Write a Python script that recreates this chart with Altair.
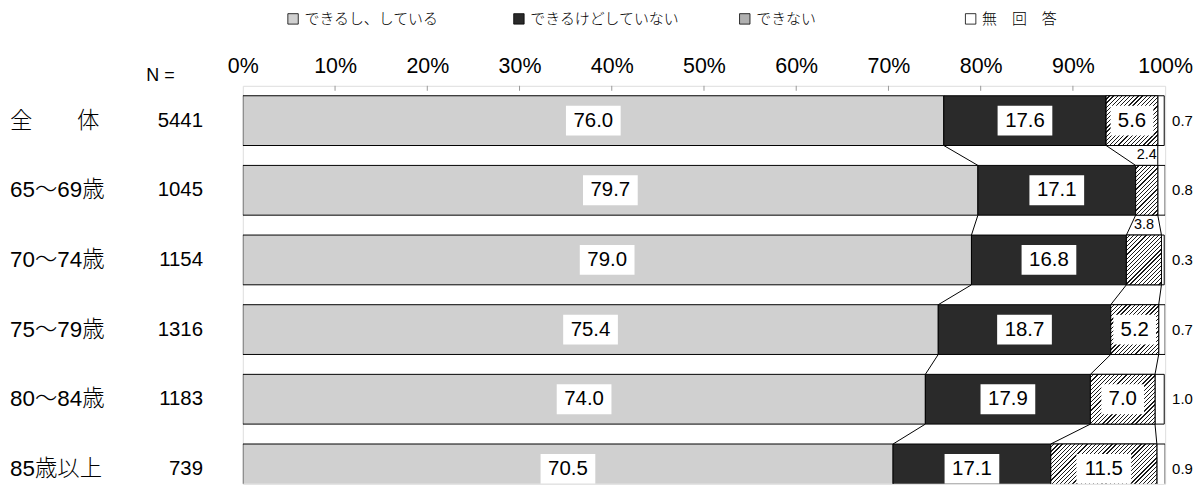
import altair as alt
import pandas as pd

# ---------------- data ----------------
rows = ["全　　体", "65～69歳", "70～74歳", "75～79歳", "80～84歳", "85歳以上"]
n_values = [5441, 1045, 1154, 1316, 1183, 739]
doing = [76.0, 79.7, 79.0, 75.4, 74.0, 70.5]
able_not_doing = [17.6, 17.1, 16.8, 18.7, 17.9, 17.1]
unable = [5.6, 2.4, 3.8, 5.2, 7.0, 11.5]
no_answer = [0.7, 0.8, 0.3, 0.7, 1.0, 0.9]
categories = ["できるし、している", "できるけどしていない", "できない", "無　回　答"]
tick_values = [0, 10, 20, 30, 40, 50, 60, 70, 80, 90, 100]

# ---------------- layout / style ----------------
FONT = "Liberation Sans, Noto Sans CJK JP, sans-serif"
CJK = "Noto Sans CJK JP, sans-serif"
W8 = 300
PLOT_W = 927
PLOT_H = 400
PITCH = 70.0
BAR_TOP = 10 / PITCH
BAR_BOT = 60 / PITCH
PX = PLOT_W / 100.0
colors = ["#d0d0d0", "#2a2a2a", "#b0b0b0", "#ffffff"]

series = [doing, able_not_doing, unable, no_answer]

seg_recs, box_recs, small_recs, right_recs, name_recs = [], [], [], [], []
cums = []
for r, row in enumerate(rows):
    cum = 0.0
    c_row = []
    for k, cat in enumerate(categories):
        v = series[k][r]
        start, end = cum, cum + v
        cum = end
        c_row.append(end)
        seg_recs.append(dict(row=row, r=r, cat=cat, v=v, start=start, end=end,
                             top=r + BAR_TOP, bot=r + BAR_BOT))
        lab = f"{v:.1f}"
        center = (start + end) / 2
        if k < 2 or (k == 2 and v >= 5):
            half = (27.5 if len(lab) == 4 else 21.5) / PX
            box_recs.append(dict(lab=lab, xc=center, x1=center - half, x2=center + half,
                                 yc=r + 0.5, y1=r + 0.5 - 15 / PITCH, y2=r + 0.5 + 15 / PITCH))
        elif k == 2:
            small_recs.append(dict(lab=lab, xc=center, yc=float(r)))
        else:
            right_recs.append(dict(lab=lab, xr=100.0, yc=r + 0.5))
    cums.append(c_row)
    name_recs.append(dict(name=row, n=str(n_values[r]), yc=r + 0.5))

conn_recs = []
for r in range(len(rows) - 1):
    for k in range(3):
        conn_recs.append(dict(x=cums[r][k], x2=cums[r + 1][k],
                              y=r + BAR_BOT, y2=r + 1 + BAR_TOP))

seg_df = pd.DataFrame(seg_recs)
box_df = pd.DataFrame(box_recs)
small_df = pd.DataFrame(small_recs)
right_df = pd.DataFrame(right_recs)
name_df = pd.DataFrame(name_recs)
conn_df = pd.DataFrame(conn_recs)
tick_df = pd.DataFrame({"t": tick_values[1:-1]})

xs = alt.Scale(domain=[0, 100], nice=False, zero=False)
ys = alt.Scale(domain=[0, PLOT_H / PITCH], reverse=True, nice=False, zero=False)
xaxis = alt.Axis(orient="top", values=tick_values, labelExpr="datum.value + '%'",
                 labelFont=FONT, labelFontSize=21.5, labelFontWeight=W8,
                 labelColor="black", labelFlush=False, labelOverlap=False,
                 ticks=False, domain=False, grid=False, labelPadding=8, title=None)


def X(f):
    return alt.X(f, type="quantitative", scale=xs, axis=xaxis)


def Y(f):
    return alt.Y(f, type="quantitative", scale=ys, axis=None)


bars = alt.Chart(seg_df).mark_bar(stroke="black", strokeWidth=1, clip=True).encode(
    x=X("start"), x2="end", y=Y("top"), y2="bot",
    fill=alt.Fill("cat:N", sort=categories,
                  scale=alt.Scale(domain=categories, range=colors),
                  legend=alt.Legend(orient="none", legendX=43, legendY=-75,
                                    direction="horizontal", columns=4, gridAlign="all",
                                    columnPadding=57, symbolType="square", symbolSize=110,
                                    symbolStrokeColor="black", symbolStrokeWidth=0.8,
                                    labelFont=CJK, labelFontSize=15, labelFontWeight=W8,
                                    labelColor="black", labelOffset=4, title=None)),
)


def hatch(w_px, h_px=50.0, p=4.2, f=0.3, s=1.25):
    rr = h_px / w_px
    n = max(1, round(w_px * s * (1 + rr * rr) / p))
    stops = []
    for i in range(n):
        a, b, c = i / n, (i + 1 - f) / n, (i + 1) / n
        stops += [{"offset": a, "color": "#ffffff"}, {"offset": b, "color": "#ffffff"},
                  {"offset": b, "color": "#1a1a1a"}, {"offset": c, "color": "#1a1a1a"}]
    return {"gradient": "linear", "x1": 0, "y1": 0, "x2": s, "y2": s * rr, "stops": stops}


hatch_layers = []
for r in range(len(rows)):
    sub = seg_df[(seg_df["cat"] == categories[2]) & (seg_df["r"] == r)]
    w = float(sub["v"].iloc[0]) * PX
    hatch_layers.append(
        alt.Chart(sub).mark_bar(fill=hatch(w), stroke="black", strokeWidth=1, clip=True).encode(
            x=X("start"), x2="end", y=Y("top"), y2="bot"))

conn = alt.Chart(conn_df).mark_rule(color="black", strokeWidth=1).encode(
    x=X("x"), x2="x2", y=Y("y"), y2="y2")

ticks = alt.Chart(tick_df).mark_rule(color="#999999", strokeWidth=1).encode(
    x=X("t"), y=alt.value(0), y2=alt.value(5))

boxes = alt.Chart(box_df).mark_bar(fill="white", stroke=None, clip=True).encode(
    x=X("x1"), x2="x2", y=Y("y1"), y2="y2")

box_text = alt.Chart(box_df).mark_text(font=FONT, fontSize=20.5, fontWeight=W8, color="black",
                                       baseline="middle", align="center").encode(
    x=X("xc"), y=Y("yc"), text="lab:N")

small_text = alt.Chart(small_df).mark_text(font=FONT, fontSize=14.5, fontWeight=W8,
                                           color="black", baseline="middle",
                                           align="center").encode(
    x=X("xc"), y=Y("yc"), text="lab:N")

right_text = alt.Chart(right_df).mark_text(font=FONT, fontSize=15, fontWeight=W8,
                                           color="black", baseline="middle",
                                           align="left", dx=7).encode(
    x=X("xr"), y=Y("yc"), text="lab:N")

name_text = alt.Chart(name_df).mark_text(font=FONT, fontSize=22.5, fontWeight=W8,
                                         color="black", baseline="middle",
                                         align="left").encode(
    x=alt.value(-234), y=Y("yc"), text="name:N")

n_text = alt.Chart(name_df).mark_text(font=FONT, fontSize=20.5, fontWeight=W8, color="black",
                                      baseline="middle", align="right").encode(
    x=alt.value(-40), y=Y("yc"), text="n:N")

n_head = alt.Chart(pd.DataFrame({"t": ["N ="]})).mark_text(
    font=FONT, fontSize=18, fontWeight=W8, color="black", baseline="middle",
    align="left").encode(x=alt.value(-97), y=alt.value(-10), text="t:N")

chart = alt.layer(bars, *hatch_layers, conn, ticks, boxes, box_text, small_text,
                  right_text, name_text, n_text, n_head).properties(
    width=PLOT_W, height=PLOT_H,
    autosize=alt.AutoSizeParams(type="none"),
    padding={"left": 236, "top": 77, "right": 31, "bottom": 0},
).configure_view(stroke="black", strokeWidth=1).configure(background="white")

chart.save("out.html", embed_options={"renderer": "svg", "actions": False})
